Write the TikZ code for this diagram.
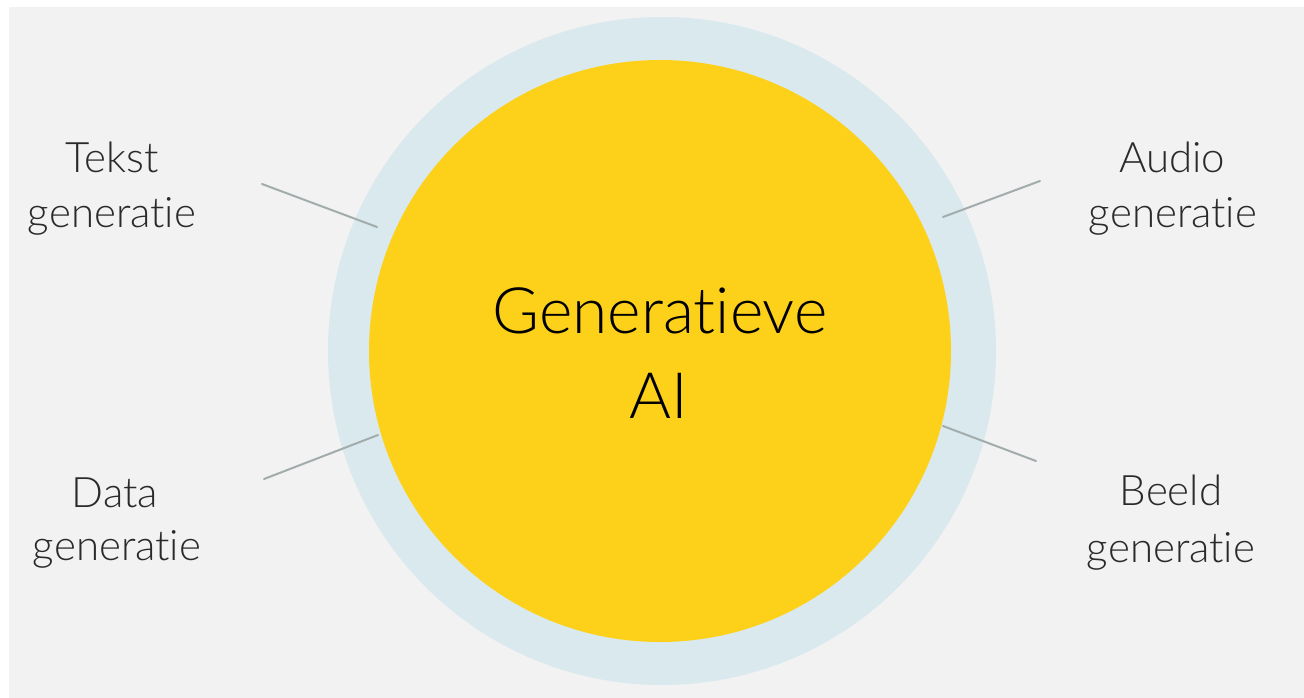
\documentclass[tikz,border=0pt]{standalone}
\usepackage{fontspec}
\setmainfont{Lato Light}[Ligatures={NoCommon,NoContextual},Contextuals=NoAlternate]
\definecolor{bggrey}{HTML}{F2F2F2}
\definecolor{ringblue}{HTML}{DAE9EE}
\definecolor{sunyellow}{HTML}{FDD11A}
\definecolor{linegrey}{HTML}{A3ACAD}
\definecolor{labeltext}{HTML}{2A2A2A}
\tikzset{
  lbl/.style={anchor=base, text=labeltext, inner sep=0pt, font=\fontsize{42}{55}\selectfont},
  centretext/.style={anchor=base, text=black, inner sep=0pt, font=\fontsize{64}{85}\selectfont},
  leader/.style={draw=linegrey, line width=2pt, line cap=round}
}
\begin{document}
\begin{tikzpicture}[x=1pt, y=-1pt]
  \useasboundingbox (0,0) rectangle (1304,698);
  \fill[white] (0,0) rectangle (1304,698);
  \fill[bggrey] (9,7) rectangle (1304,698);
  % circles
  \fill[ringblue] (662,351) circle[radius=334];
  \fill[sunyellow] (660,351) circle[radius=291];
  % centre text
  \node[centretext] (gen) at (660,333) {Generatieve};
  \node[centretext] (ai) at (659,418) {AI};
  % labels
  \node[lbl] (tekst) at (112,172) {Tekst};
  \node[lbl] (tekstg) at (112,227) {generatie};
  \node[lbl] (audio) at (1172,172) {Audio};
  \node[lbl] (audiog) at (1173,227) {generatie};
  \node[lbl] (data) at (115,507) {Data};
  \node[lbl] (datag) at (117,560) {generatie};
  \node[lbl] (beeld) at (1171,505) {Beeld};
  \node[lbl] (beeldg) at (1171,562) {generatie};
  % leader line ends
  \coordinate (tA) at (262,184);
  \coordinate (tB) at (377,227);
  \coordinate (aA) at (1040,181);
  \coordinate (aB) at (943,217);
  \coordinate (dA) at (264,479);
  \coordinate (dB) at (378,435);
  \coordinate (bA) at (1036,461);
  \coordinate (bB) at (943,426);
  \draw[leader] (tA) -- (tB);
  \draw[leader] (aA) -- (aB);
  \draw[leader] (dA) -- (dB);
  \draw[leader] (bA) -- (bB);
\end{tikzpicture}
\end{document}
